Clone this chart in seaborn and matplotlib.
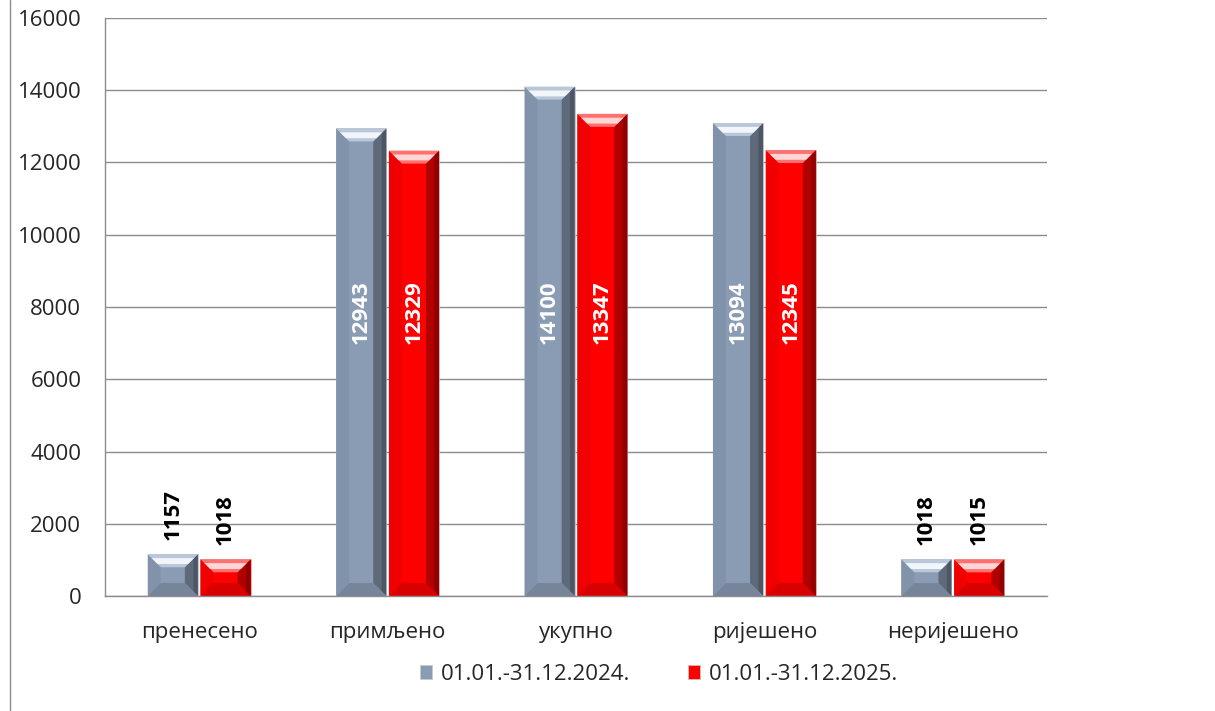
import numpy as np
import pandas as pd
import matplotlib
matplotlib.use("Agg")
import matplotlib.pyplot as plt
from matplotlib.patches import Polygon
import seaborn as sns

# Data
categories = ["пренесено", "примљено", "укупно", "ријешено", "неријешено"]
series_names = ["01.01.-31.12.2024.", "01.01.-31.12.2025."]
values_2024 = [1157, 12943, 14100, 13094, 1018]
values_2025 = [1018, 12329, 13347, 12345, 1015]
y_ticks = [0, 2000, 4000, 6000, 8000, 10000, 12000, 14000, 16000]

colors = ["#8A9CB4", "#FF0000"]
# bevel shades per series: top, top highlight, left, right, bottom
bevel = [
    ["#B9C7D8", "#F2F6FB", "#8193AB", "#5E6A7A", "#76859A"],
    ["#FF7070", "#FFD6D6", "#F00000", "#B00000", "#D80000"],
]

df = pd.DataFrame({
    "category": categories * 2,
    "period": [series_names[0]] * 5 + [series_names[1]] * 5,
    "value": values_2024 + values_2025,
})

sns.set_style("white")
plt.rcParams["font.family"] = ["Open Sans", "DejaVu Sans"]
FS = 16

fig = plt.figure(figsize=(12.15, 7.11), dpi=100)
ax = fig.add_axes([0.0864, 0.1617, 0.7753, 0.8130])

sns.barplot(data=df, x="category", y="value", hue="period", palette=colors,
            width=0.56, gap=0.05, saturation=1, ax=ax, legend=True,
            edgecolor="#C8C8C8", linewidth=0.5)

ax.set_ylim(0, 16000)
ax.set_yticks(y_ticks)
ax.set_xlim(-0.5, len(categories) - 0.5)
ax.yaxis.grid(True, color="#8C8C8C", linewidth=1)
ax.set_axisbelow(True)
ax.set_xlabel("")
ax.set_ylabel("")

for side in ["top", "right"]:
    ax.spines[side].set_visible(False)
for side in ["left", "bottom"]:
    ax.spines[side].set_color("#8C8C8C")
    ax.spines[side].set_linewidth(1)

ax.tick_params(axis="y", length=6, color="#8C8C8C", labelsize=FS, pad=11)
ax.set_xticks(np.arange(len(categories)))
ax.set_xticklabels(categories, fontsize=FS)
ax.tick_params(axis="x", length=0, pad=19)
ax.set_xticks(np.arange(len(categories) + 1) - 0.5, minor=True)
ax.tick_params(axis="x", which="minor", length=6, color="#8C8C8C")

# bevel size in data units (about 13 px)
px_x = (ax.get_xlim()[1] - ax.get_xlim()[0]) / (0.7753 * 1215)
px_y = 16000 / (0.8130 * 711)
bx, by = 13 * px_x, 13 * px_y

for si, container in enumerate(ax.containers):
    top_c, hi_c, left_c, right_c, bot_c = bevel[si]
    for bar in container:
        x0, w, h = bar.get_x(), bar.get_width(), bar.get_height()
        x1 = x0 + w
        d_y = min(by, h / 2.8)
        z = bar.get_zorder() + 0.1
        ax.add_patch(Polygon([(x0, 0), (x0, h), (x0 + bx, h - d_y), (x0 + bx, d_y)],
                             closed=True, color=left_c, lw=0, zorder=z))
        ax.add_patch(Polygon([(x1, 0), (x1, h), (x1 - bx, h - d_y), (x1 - bx, d_y)],
                             closed=True, color=right_c, lw=0, zorder=z))
        # extra dark strip on the far right edge
        ax.add_patch(Polygon([(x1, 0), (x1, h), (x1 - bx * 0.35, h - d_y * 0.35),
                              (x1 - bx * 0.35, d_y * 0.35)],
                             closed=True, color="black", alpha=0.18, lw=0, zorder=z))
        ax.add_patch(Polygon([(x0, h), (x1, h), (x1 - bx, h - d_y), (x0 + bx, h - d_y)],
                             closed=True, color=top_c, lw=0, zorder=z))
        ax.add_patch(Polygon([(x0 + bx * 0.3, h - d_y * 0.3), (x1 - bx * 0.3, h - d_y * 0.3),
                              (x1 - bx * 0.75, h - d_y * 0.75), (x0 + bx * 0.75, h - d_y * 0.75)],
                             closed=True, color=hi_c, lw=0, zorder=z))
        ax.add_patch(Polygon([(x0, 0), (x1, 0), (x1 - bx, d_y), (x0 + bx, d_y)],
                             closed=True, color=bot_c, lw=0, zorder=z))

# value labels
for container in ax.containers:
    for bar, val in zip(container, container.datavalues):
        cx = bar.get_x() + bar.get_width() / 2
        if val > 5000:
            ax.text(cx, 7850, f"{int(val)}", rotation=90, ha="center", va="center",
                    color="white", fontweight="bold", fontsize=FS, zorder=5)
        else:
            ax.annotate(f"{int(val)}", (cx, val), xytext=(0, 10),
                        textcoords="offset points", rotation=90, ha="center",
                        va="bottom", color="black", fontweight="bold", fontsize=FS)

leg = ax.legend(loc="upper center", bbox_to_anchor=(0.588, -0.083), ncol=2,
                frameon=False, fontsize=FS, handlelength=0.55, handleheight=0.55,
                columnspacing=2.6, handletextpad=0.4)

# chart frame line on the left
fig.add_artist(plt.Line2D([0.0085, 0.0085], [0, 1], color="#8C8C8C", linewidth=1))

fig.savefig("out.png", dpi=100)
